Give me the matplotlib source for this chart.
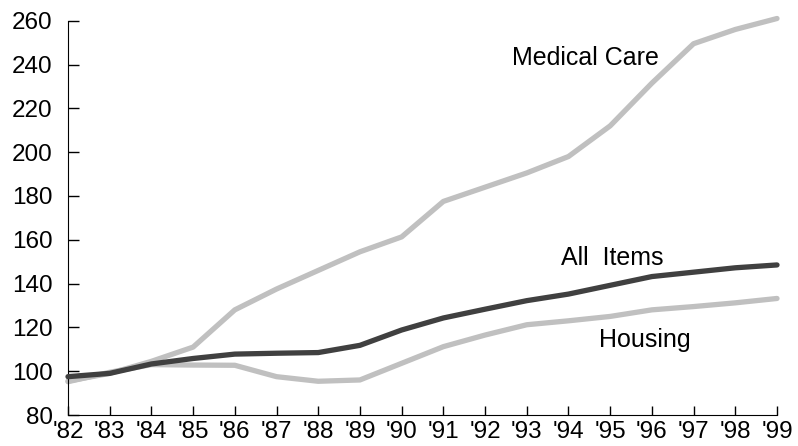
import matplotlib
matplotlib.use("Agg")
import matplotlib.pyplot as plt

plt.rcParams["font.family"] = ["Liberation Sans", "DejaVu Sans"]

ANIOS = ["'82", "'83", "'84", "'85", "'86", "'87", "'88", "'89", "'90",
         "'91", "'92", "'93", "'94", "'95", "'96", "'97", "'98", "'99"]
MEDICAL = [95.5, 99, 104.5, 111, 128, 137.5, 146, 154.5, 161.3, 177.5,
           184, 190.5, 198, 212, 231.5, 249.5, 256, 261]
ALL_ITEMS = [97.5, 99, 103.3, 105.8, 107.8, 108.2, 108.5, 111.8, 118.8,
             124.3, 128.3, 132.2, 135.2, 139.2, 143.2, 145.2, 147.2, 148.5]
HOUSING = [95.2, 99.5, 103, 102.8, 102.7, 97.5, 95.4, 96, 103.6, 111.2,
           116.5, 121.2, 123, 125, 128, 129.5, 131.2, 133.2]

x = list(range(len(ANIOS)))

fig = plt.figure(figsize=(7.98, 4.46), dpi=100)
ax = fig.add_axes([0.0852, 0.0695, 0.8885, 0.8841])

gris = "#c0c0c0"
oscuro = "#404040"
ax.plot(x, MEDICAL, color=gris, linewidth=3.8, solid_capstyle="round", clip_on=False, zorder=2)
ax.plot(x, HOUSING, color=gris, linewidth=3.8, solid_capstyle="round", clip_on=False, zorder=2)
ax.plot(x, ALL_ITEMS, color=oscuro, linewidth=3.8, solid_capstyle="round", clip_on=False, zorder=3)

# etiquetas de las series
ax.text(12.4, 243, "Medical Care", fontsize=18, ha="center", va="center")
ax.text(13.04, 151.5, "All  Items", fontsize=18, ha="center", va="center")
ax.text(13.84, 114.3, "Housing", fontsize=18, ha="center", va="center")

ax.set_xlim(0, len(ANIOS) - 1)
ax.set_ylim(80, 260)
ax.set_xticks(x)
ax.set_xticklabels(ANIOS)
ax.set_yticks(range(80, 261, 20))

ax.spines["top"].set_visible(False)
ax.spines["right"].set_visible(False)
ax.tick_params(axis="both", direction="in", labelsize=17.5, width=1)
ax.tick_params(axis="y", length=7.7, pad=11)
ax.tick_params(axis="x", length=6.5, pad=4)

fig.savefig("out.png", dpi=100)
